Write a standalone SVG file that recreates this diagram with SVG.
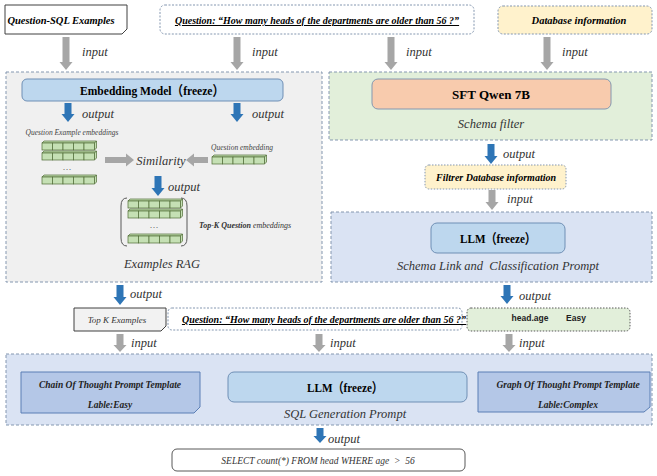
<svg xmlns="http://www.w3.org/2000/svg" xmlns:xlink="http://www.w3.org/1999/xlink" width="657" height="476" viewBox="0 0 657 476">
<style>
.serif{font-family:"Liberation Serif","Times New Roman","DejaVu Serif","Noto Sans CJK SC",serif;}
.bi{font-family:"Liberation Serif","Times New Roman","DejaVu Serif","Noto Sans CJK SC",serif;font-weight:bold;font-style:italic;}
.it{font-family:"Liberation Serif","Times New Roman","DejaVu Serif","Noto Sans CJK SC",serif;font-style:italic;}
.b{font-family:"Liberation Serif","Times New Roman","DejaVu Serif","Noto Sans CJK SC",serif;font-weight:bold;}
.lbl{font-family:"Liberation Serif","Times New Roman","DejaVu Serif",serif;font-style:italic;font-size:12.5px;fill:#333;}
.gray{fill:#a6a6a6;}
.blue{fill:#2e75b6;}
.panel{stroke:#8497b0;stroke-width:1;stroke-dasharray:3,2;}
.cell{fill:#c5e0b4;stroke:#4f6b35;stroke-width:0.7;}
</style>
<defs>
<g id="row">
<polygon class="cell" points="0,2 2,0 54.5,0 52.5,2"/>
<polygon class="cell" points="52.5,2 54.5,0 54.5,7 52.5,9"/>
<rect class="cell" x="0" y="2" width="10.5" height="7"/>
<rect class="cell" x="10.5" y="2" width="10.5" height="7"/>
<rect class="cell" x="21" y="2" width="10.5" height="7"/>
<rect class="cell" x="31.5" y="2" width="10.5" height="7"/>
<rect class="cell" x="42" y="2" width="10.5" height="7"/>
</g>
</defs>
<rect width="657" height="476" fill="#ffffff"/>

<!-- panels -->
<g id="panel-rag">
<rect class="panel" x="6" y="72" width="316" height="210" fill="#f0f0f0"/>
<text class="it" x="162" y="268" font-size="12.5" text-anchor="middle" fill="#333">Examples RAG</text>
</g>
<g id="panel-schema-filter">
<rect class="panel" x="329" y="72" width="323" height="68" fill="#e2efda"/>
<text class="it" x="491" y="128" font-size="12.5" text-anchor="middle" fill="#333">Schema filter</text>
</g>
<g id="panel-schema-link">
<rect class="panel" x="331" y="212" width="321" height="70" fill="#dae3f3"/>
<text class="it" x="498" y="270" font-size="12.5" text-anchor="middle" fill="#333" xml:space="preserve">Schema Link and  Classification Prompt</text>
</g>
<g id="panel-sql-gen">
<rect class="panel" x="6" y="354" width="646" height="71" fill="#dae3f3"/>
<text class="it" x="345" y="418" font-size="12.5" text-anchor="middle" fill="#333">SQL Generation Prompt</text>
</g>

<!-- top inputs -->
<g id="question-sql-examples">
<path d="M5,5 H127 V29 L122,34 H5 Z" fill="#ffffff" stroke="#404040" stroke-width="1"/>
<text class="bi" x="61" y="24" font-size="10.5" text-anchor="middle">Question-SQL Examples</text>
</g>
<g id="question-top">
<rect x="160" y="5" width="314" height="29" rx="5" fill="#ffffff" stroke="#8497b0" stroke-dasharray="2,1.5"/>
<text class="bi" x="317" y="24" font-size="10" text-anchor="middle" text-decoration="underline">Question: “How many heads of the departments are older than 56 ?”</text>
</g>
<g id="database-info">
<rect x="498" y="6" width="154" height="28" rx="5" fill="#fff2cc" stroke="#8497b0" stroke-dasharray="2,1.5"/>
<text class="bi" x="579" y="24" font-size="10.5" text-anchor="middle">Database information</text>
</g>

<!-- models -->
<g id="embedding-model">
<rect x="22" y="79" width="261" height="22" rx="5" fill="#bdd7ee" stroke="#6f8fb5" stroke-width="1"/>
<text class="b" x="152" y="95" font-size="13.5" text-anchor="middle" textLength="144" lengthAdjust="spacingAndGlyphs">Embedding Model（freeze）</text>
</g>
<g id="sft-qwen">
<rect x="372" y="79" width="239" height="30" rx="6" fill="#f8cbad" stroke="#8497b0" stroke-width="1"/>
<text class="b" x="491" y="99" font-size="13" text-anchor="middle">SFT Qwen 7B</text>
</g>

<!-- embeddings -->
<g id="question-example-embeddings">
<text class="it" x="72" y="135" font-size="7.5" text-anchor="middle" fill="#444">Question Example embeddings</text>
<use xlink:href="#row" x="42" y="141"/>
<use xlink:href="#row" x="42" y="151"/>
<text class="serif" x="67" y="170" font-size="9" text-anchor="middle" fill="#444">…</text>
<use xlink:href="#row" x="42" y="175"/>
</g>
<g id="similarity">
<text class="it" x="161" y="165" font-size="12.5" text-anchor="middle" fill="#333">Similarity</text>
</g>
<g id="question-embedding">
<text class="it" x="242" y="150" font-size="7.5" text-anchor="middle" fill="#444">Question embedding</text>
<use xlink:href="#row" x="212" y="155"/>
</g>
<g id="topk-embeddings">
<path d="M127,198 Q121,198 121,206 L121,238 Q121,246 127,246" fill="none" stroke="#595959" stroke-width="1"/>
<path d="M181,198 Q187,198 187,206 L187,238 Q187,246 181,246" fill="none" stroke="#595959" stroke-width="1"/>
<use xlink:href="#row" x="128" y="199"/>
<use xlink:href="#row" x="128" y="209"/>
<text class="serif" x="154" y="228" font-size="9" text-anchor="middle" fill="#444">…</text>
<use xlink:href="#row" x="128" y="234"/>
<text class="it" x="199" y="228" font-size="8" fill="#333"><tspan font-weight="bold">Top-K Question</tspan><tspan> embeddings</tspan></text>
</g>

<g id="filtrer-db-info">
<rect x="425" y="165" width="141" height="24" rx="4" fill="#fff2cc" stroke="#8497b0" stroke-dasharray="1.5,1.5"/>
<text class="bi" x="496" y="181" font-size="10" text-anchor="middle">Filtrer Database information</text>
</g>
<g id="llm-schema">
<rect x="431" y="223" width="134" height="30" rx="6" fill="#bdd7ee" stroke="#6f8fb5" stroke-width="1"/>
<text class="b" x="498" y="243" font-size="13.5" text-anchor="middle" textLength="76" lengthAdjust="spacingAndGlyphs">LLM（freeze）</text>
</g>

<!-- middle row -->
<g id="topk-examples">
<path d="M74,308 H166 V326 L161,331 H74 Z" fill="#f2f2f2" stroke="#404040" stroke-width="1"/>
<text class="it" x="117" y="323" font-size="9" text-anchor="middle" fill="#333">Top K Examples</text>
</g>
<g id="question-mid">
<rect x="168" y="308" width="294" height="22" rx="4" fill="#ffffff" stroke="#8497b0" stroke-dasharray="2,1.5"/>
<text class="bi" x="324" y="323" font-size="10" text-anchor="middle" text-decoration="underline">Question: “How many heads of the departments are older than 56 ?”</text>
</g>
<g id="schema-result">
<rect x="467" y="308" width="163" height="23" rx="4" fill="#e2efda" stroke="#595959" stroke-dasharray="1.5,1.5"/>
<text x="530" y="321" font-family="Liberation Sans, Arial, sans-serif" font-weight="bold" font-size="8.5" text-anchor="middle" fill="#222">head.age</text>
<text x="576" y="321" font-family="Liberation Sans, Arial, sans-serif" font-weight="bold" font-size="8.5" text-anchor="middle" fill="#222">Easy</text>
</g>

<!-- bottom -->
<g id="cot-template">
<path d="M21,372 H200 V407 L194,413 H21 Z" fill="#b4c7e7" stroke="#5b7fb5" stroke-width="1"/>
<text class="bi" x="110" y="388" font-size="9.5" text-anchor="middle" fill="#222">Chain Of Thought Prompt Template</text>
<text class="bi" x="110" y="408" font-size="9.5" text-anchor="middle" fill="#222">Lable:Easy</text>
</g>
<g id="llm-sql">
<rect x="228" y="372" width="239" height="30" rx="6" fill="#bdd7ee" stroke="#6f8fb5" stroke-width="1"/>
<text class="b" x="345" y="392" font-size="13.5" text-anchor="middle" textLength="76" lengthAdjust="spacingAndGlyphs">LLM（freeze）</text>
</g>
<g id="got-template">
<path d="M478,372 H650 V407 L644,412 H478 Z" fill="#b4c7e7" stroke="#5b7fb5" stroke-width="1"/>
<text class="bi" x="568" y="388" font-size="9.5" text-anchor="middle" fill="#222">Graph Of Thought Prompt Template</text>
<text class="bi" x="568" y="408" font-size="9.5" text-anchor="middle" fill="#222">Lable:Complex</text>
</g>
<g id="sql-output">
<rect x="172" y="449" width="293" height="22" rx="5" fill="#ffffff" stroke="#595959" stroke-width="1"/>
<text class="it" x="318" y="464" font-size="9.5" text-anchor="middle" fill="#333" xml:space="preserve">SELECT count(*) FROM head WHERE age  &gt;  56</text>
</g>

<!-- connectors -->
<g id="connectors">
<path class="gray" d="M62.5,37 H69.5 V62 H72.5 L66,70 L59.5,62 H62.5 Z"/>
<path class="gray" d="M233.5,37 H240.5 V62 H243.5 L237,70 L230.5,62 H233.5 Z"/>
<path class="gray" d="M387.5,37 H394.5 V62 H397.5 L391,70 L384.5,62 H387.5 Z"/>
<path class="gray" d="M543.5,37 H550.5 V62 H553.5 L547,70 L540.5,62 H543.5 Z"/>
<path class="blue" d="M64.5,103 H71.5 V114 H74.5 L68,122 L61.5,114 H64.5 Z"/>
<path class="blue" d="M233.5,103 H240.5 V114 H243.5 L237,122 L230.5,114 H233.5 Z"/>
<path class="gray" d="M105,157 H126 V153.5 L134,160 L126,166.5 V163 H105 Z"/>
<path class="gray" d="M208,157 H194 V153.5 L186,160 L194,166.5 V163 H208 Z"/>
<path class="blue" d="M154.5,176 H161.5 V188 H164.5 L158,196 L151.5,188 H154.5 Z"/>
<path class="blue" d="M487.5,144 H494.5 V156 H497.5 L491,164 L484.5,156 H487.5 Z"/>
<path class="gray" d="M488.5,190 H495.5 V202 H498.5 L492,210 L485.5,202 H488.5 Z"/>
<path class="blue" d="M116.5,285 H123.5 V297 H126.5 L120,305 L113.5,297 H116.5 Z"/>
<path class="blue" d="M503.5,285 H510.5 V296 H513.5 L507,304 L500.5,296 H503.5 Z"/>
<path class="gray" d="M116.5,334 H123.5 V345 H126.5 L120,352 L113.5,345 H116.5 Z"/>
<path class="gray" d="M315.5,334 H322.5 V345 H325.5 L319,352 L312.5,345 H315.5 Z"/>
<path class="gray" d="M505.5,334 H512.5 V345 H515.5 L509,352 L502.5,345 H505.5 Z"/>
<path class="blue" d="M316.5,428 H323.5 V436 H326.5 L320,443 L313.5,436 H316.5 Z"/>
<text class="lbl" x="82" y="56">input</text>
<text class="lbl" x="252" y="56">input</text>
<text class="lbl" x="406" y="56">input</text>
<text class="lbl" x="562" y="56">input</text>
<text class="lbl" x="82" y="118">output</text>
<text class="lbl" x="252" y="118">output</text>
<text class="lbl" x="168" y="191">output</text>
<text class="lbl" x="503" y="158">output</text>
<text class="lbl" x="507" y="203">input</text>
<text class="lbl" x="130" y="298">output</text>
<text class="lbl" x="519" y="300">output</text>
<text class="lbl" x="131" y="347">input</text>
<text class="lbl" x="330" y="347">input</text>
<text class="lbl" x="519" y="347">input</text>
<text class="lbl" x="328" y="443">output</text>
</g>
</svg>
